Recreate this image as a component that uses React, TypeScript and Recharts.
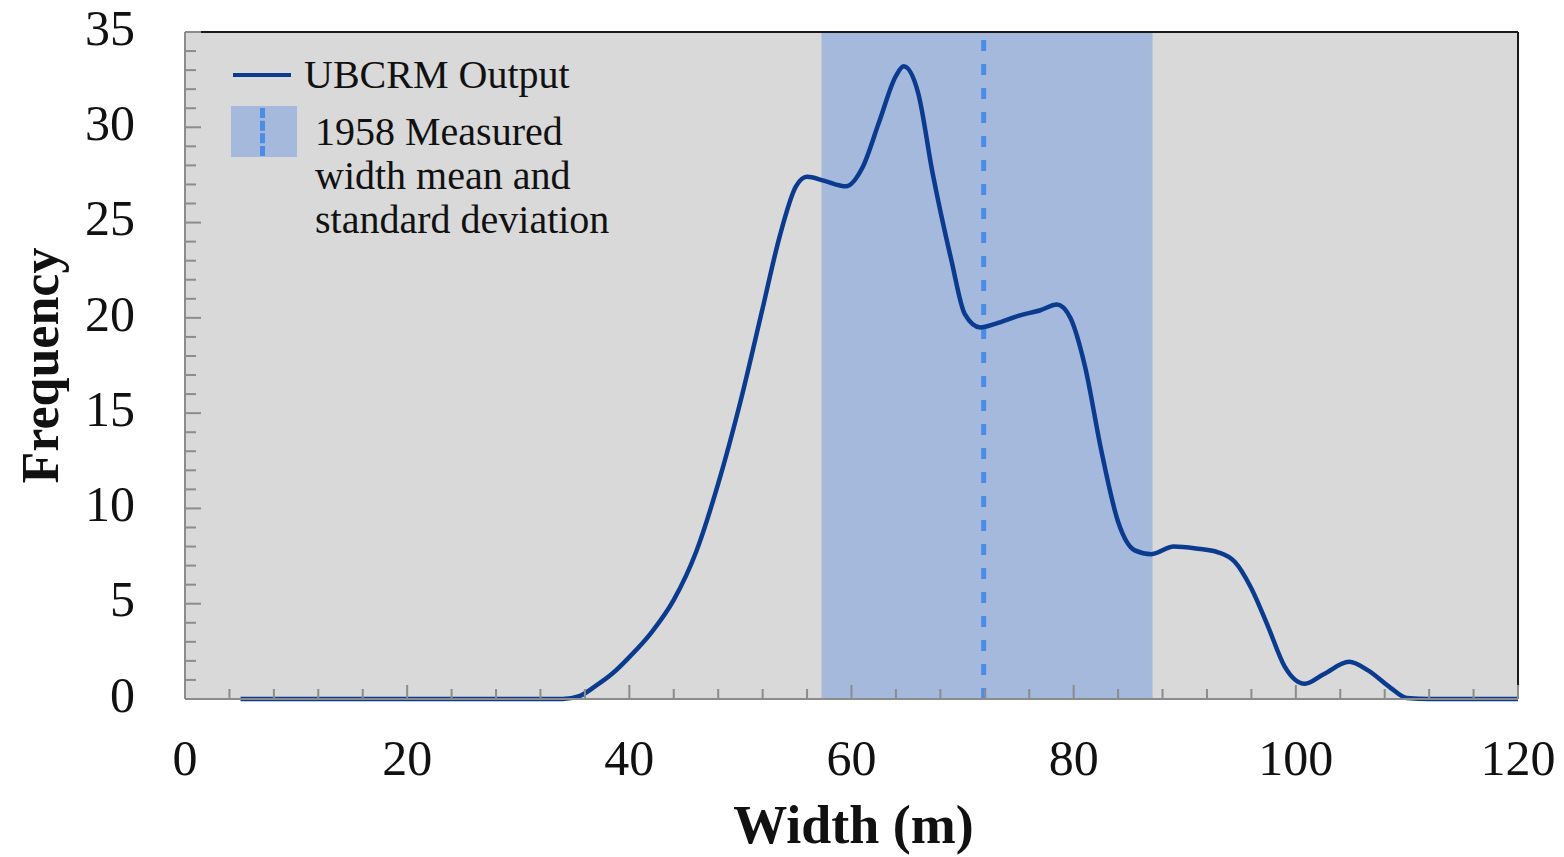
import React from "react";
import {
  LineChart,
  Line,
  XAxis,
  YAxis,
  CartesianGrid,
  ReferenceArea,
  ReferenceLine,
  Label,
} from "recharts";

// width (m) sample positions and modelled frequency
const widths = [
  5, 10, 15, 20, 25, 30, 34, 35.5, 37, 38.5, 40, 42, 44, 46, 48, 50, 52, 53.5,
  55, 56, 57.5, 59.5, 61, 62.5, 64, 64.7, 66, 67.3, 69, 70.2, 71.6, 73, 75, 77,
  78.5, 79.7, 81, 82.5, 84, 85.5, 87, 89, 91, 93, 94.5, 96, 97.5, 99, 100.8,
  102.5, 104.8, 106.5, 108.5, 110, 112, 115, 120,
];
const frequency = [
  0, 0, 0, 0, 0, 0, 0, 0.15, 0.7, 1.35, 2.2, 3.5, 5.2, 7.7, 11.3, 15.6, 20.5,
  24.2, 26.9, 27.4, 27.2, 26.9, 27.9, 30.3, 32.7, 33.2, 31.8, 27.6, 23.0, 20.2,
  19.5, 19.7, 20.1, 20.4, 20.7, 20.0, 17.5, 13.0, 9.3, 7.8, 7.6, 8.0, 7.9, 7.7,
  7.2, 5.8, 3.8, 1.7, 0.8, 1.3, 1.95, 1.5, 0.6, 0.05, 0, 0, 0,
];

// 1958 measured width: mean and +/- one standard deviation
const measuredMean = 71.9;
const measuredLow = 57.3;
const measuredHigh = 87.1;

const xTicks = [0, 20, 40, 60, 80, 100, 120];
const yTicks = [0, 5, 10, 15, 20, 25, 30, 35];
const xMinorTicks = [
  0, 4, 8, 12, 16, 20, 24, 28, 32, 36, 40, 44, 48, 52, 56, 60, 64, 68, 72, 76,
  80, 84, 88, 92, 96, 100, 104, 108, 112, 116, 120,
];
const yMinorTicks = [
  0, 1, 2, 3, 4, 5, 6, 7, 8, 9, 10, 11, 12, 13, 14, 15, 16, 17, 18, 19, 20, 21,
  22, 23, 24, 25, 26, 27, 28, 29, 30, 31, 32, 33, 34, 35,
];

const chartData = widths.map((w, i) => ({ width: w, freq: frequency[i] }));

const FONT = '"Liberation Serif", "Times New Roman", serif';
const LINE_COLOR = "#0b3b8f";
const BAND_COLOR = "#a4b9dc";
const MEAN_COLOR = "#4a8ce8";
const AXIS_GRAY = "#8c8c8c";
const PLOT_LEFT = 185;

// inward tick marks, longer on the labelled values
const XMinorTick = ({ x, y, payload }: any) => {
  const len = payload.value % 20 === 0 ? 14 : 10;
  return <line x1={x} x2={x} y1={y} y2={y - len} stroke={AXIS_GRAY} strokeWidth={2} />;
};
const YMinorTick = ({ y, payload }: any) => {
  const len = payload.value % 5 === 0 ? 16 : 11;
  return (
    <line
      x1={PLOT_LEFT}
      x2={PLOT_LEFT + len}
      y1={y}
      y2={y}
      stroke={AXIS_GRAY}
      strokeWidth={2}
    />
  );
};

export default function App() {
  return (
    <div style={{ position: "absolute", left: 0, top: 0, width: 1564, height: 857, background: "#fff" }}>
      <LineChart
        width={1564}
        height={857}
        data={chartData}
        margin={{ top: 32, right: 46, bottom: 0, left: 0 }}
      >
        <CartesianGrid fill="#d9d9d9" horizontal={false} vertical={false} />
        <ReferenceArea
          x1={measuredLow}
          x2={measuredHigh}
          fill={BAND_COLOR}
          fillOpacity={1}
          stroke="none"
        />
        <ReferenceLine
          x={measuredMean}
          stroke={MEAN_COLOR}
          strokeWidth={5}
          strokeDasharray="11 13"
        />
        <ReferenceLine y={35} stroke="#1a1a1a" strokeWidth={2} />
        <ReferenceLine x={120} stroke="#1a1a1a" strokeWidth={2} />
        <XAxis
          dataKey="width"
          type="number"
          domain={[0, 120]}
          ticks={xTicks}
          height={158}
          tickLine={false}
          tickSize={0}
          tickMargin={40}
          stroke={AXIS_GRAY}
          strokeWidth={2}
          tick={{ fontFamily: FONT, fontSize: 50, fill: "#111" }}
        >
          <Label
            content={({ viewBox }: any) => (
              <text
                x={viewBox.x + viewBox.width / 2 + 2}
                y={viewBox.y + 144}
                textAnchor="middle"
                fontFamily={FONT}
                fontWeight="bold"
                fontSize={54}
                fill="#111"
              >
                Width (m)
              </text>
            )}
          />
        </XAxis>
        <XAxis
          xAxisId="minor"
          dataKey="width"
          type="number"
          domain={[0, 120]}
          ticks={xMinorTicks}
          interval={0}
          mirror
          axisLine={false}
          tickLine={false}
          tickSize={0}
          tickMargin={0}
          tick={<XMinorTick />}
        />
        <YAxis
          type="number"
          domain={[0, 35]}
          ticks={yTicks}
          width={185}
          tickLine={false}
          tickSize={0}
          tickMargin={50}
          stroke={AXIS_GRAY}
          strokeWidth={2}
          tick={{ fontFamily: FONT, fontSize: 50, fill: "#111", dy: -5 }}
        >
          <Label
            content={({ viewBox }: any) => (
              <text
                x={40}
                y={viewBox.y + viewBox.height / 2}
                textAnchor="middle"
                dominantBaseline="central"
                transform={`rotate(-90, 40, ${viewBox.y + viewBox.height / 2})`}
                fontFamily={FONT}
                fontWeight="bold"
                fontSize={52}
                fill="#111"
              >
                Frequency
              </text>
            )}
          />
        </YAxis>
        <YAxis
          yAxisId="minor"
          dataKey="freq"
          type="number"
          domain={[0, 35]}
          allowDataOverflow
          ticks={yMinorTicks}
          interval={0}
          mirror
          axisLine={false}
          tickLine={false}
          tickSize={0}
          tickMargin={0}
          tick={<YMinorTick />}
        />
        <Line
          type="monotone"
          dataKey="freq"
          stroke={LINE_COLOR}
          strokeWidth={4.5}
          dot={false}
          isAnimationActive={false}
        />
      </LineChart>
      {/* legend */}
      <div
        style={{
          position: "absolute",
          left: 231,
          top: 52,
          fontFamily: FONT,
          fontSize: 40,
          color: "#111",
          lineHeight: "44px",
        }}
      >
        <div style={{ display: "flex", alignItems: "center", height: 46 }}>
          <span style={{ display: "inline-block", width: 58, height: 4, background: LINE_COLOR, marginLeft: 2 }} />
          <span style={{ marginLeft: 13 }}>UBCRM Output</span>
        </div>
        <div style={{ display: "flex", alignItems: "flex-start", marginTop: 8 }}>
          <div style={{ position: "relative", width: 66, height: 51, background: BAND_COLOR }}>
            <div
              style={{
                position: "absolute",
                left: 29,
                top: 2,
                height: 48,
                borderLeft: `5px dashed ${MEAN_COLOR}`,
              }}
            />
          </div>
          <div style={{ marginLeft: 18, marginTop: 4 }}>
            1958 Measured
            <br />
            width mean and
            <br />
            standard deviation
          </div>
        </div>
      </div>
    </div>
  );
}
